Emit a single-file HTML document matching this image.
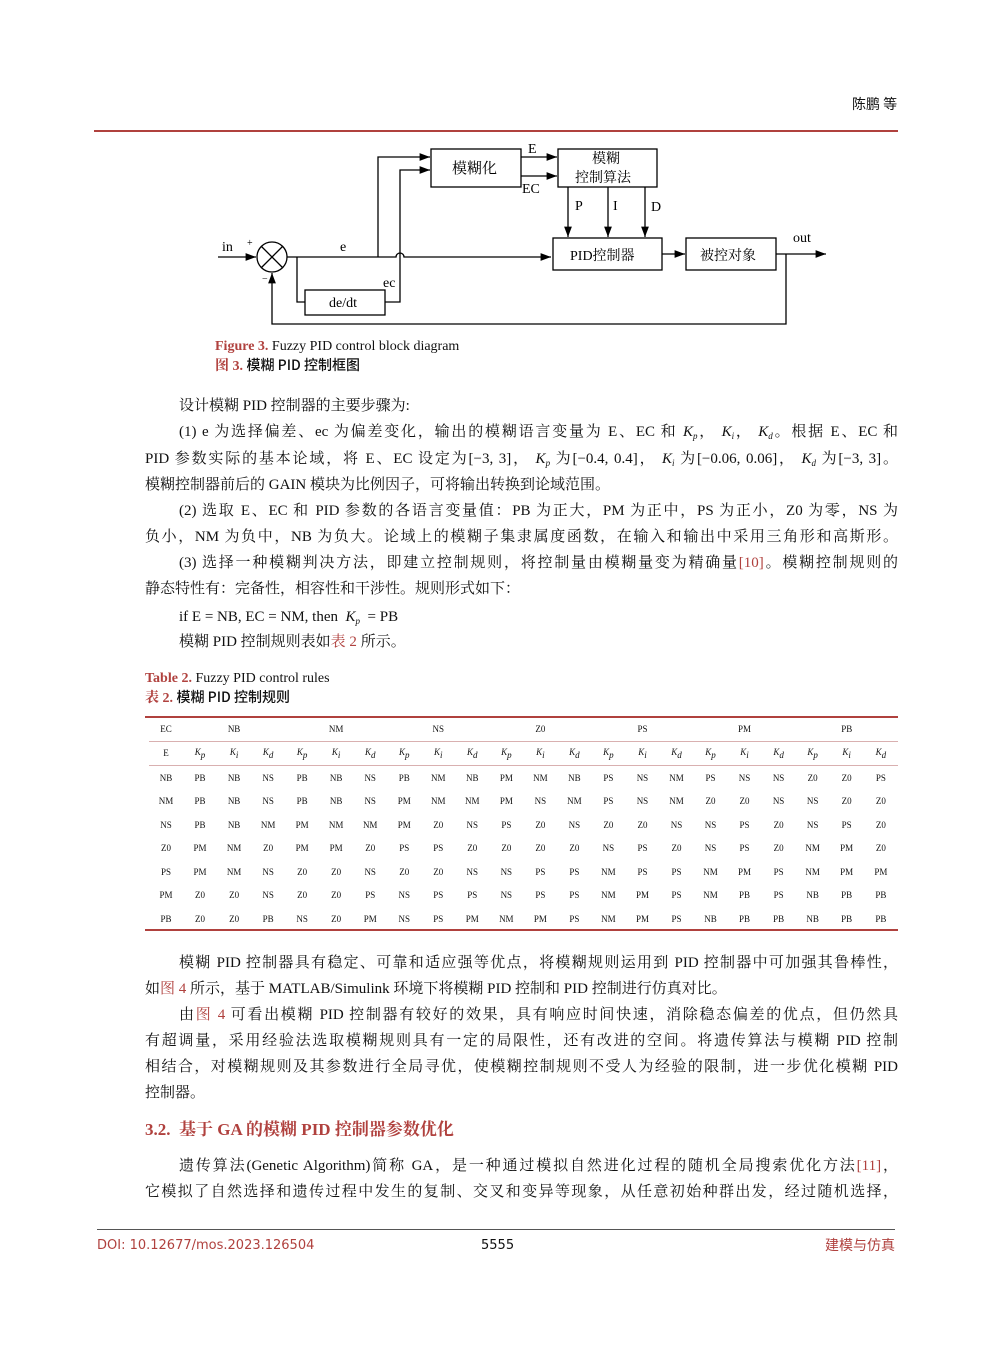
<!DOCTYPE html>
<html><head><meta charset="utf-8"><style>
body{margin:0;background:#fff}
#p{position:relative;width:992px;height:1347px;overflow:hidden;font-family:"Liberation Serif","Noto Serif CJK SC","Noto Sans CJK SC",serif;color:#111}
.l{position:absolute;font-size:15px;line-height:18px;white-space:nowrap}
.j{text-align:justify;text-align-last:justify;white-space:normal}
.r{color:#b0413e}
sub{font-size:9px;vertical-align:-3px}
i{font-style:italic}
table{position:absolute;left:145px;top:717px;width:753px;border-collapse:collapse;font-size:9px;font-family:"Liberation Serif",serif;table-layout:fixed}
td{text-align:center;height:23.5px;padding:0}
</style></head><body><div id="p">
<div class="l" style="left:852px;top:95px;font-family:'Noto Sans CJK SC',sans-serif;font-size:14px">陈鹏 等</div>
<div style="position:absolute;left:94px;top:130px;width:804px;height:1.5px;background:#b0413e"></div>

<svg style="position:absolute;left:0;top:0" width="992" height="340" font-family="Liberation Serif,Noto Serif CJK SC,serif" font-size="14">
<defs><marker id="a" markerWidth="8" markerHeight="6" refX="8" refY="3" orient="auto"><path d="M0,0L8,3L0,6z" fill="#000"/></marker></defs>
<g stroke="#000" stroke-width="1.3" fill="none">
<line x1="218" y1="257" x2="256" y2="257" marker-end="url(#a)"/>
<circle cx="272" cy="257" r="15"/>
<line x1="261" y1="246" x2="283" y2="268"/><line x1="283" y1="246" x2="261" y2="268"/>
<path d="M287,257H396a4,4 0 0 1 8,0H551" marker-end="url(#a)"/>
<path d="M378,257V157H430" marker-end="url(#a)"/>
<path d="M385,302H400V170H430" marker-end="url(#a)"/>
<path d="M297,257V302H305"/>
<rect x="305" y="290" width="80" height="25"/>
<rect x="431" y="149" width="90" height="38"/>
<line x1="521" y1="157" x2="557" y2="157" marker-end="url(#a)"/>
<line x1="521" y1="176" x2="557" y2="176" marker-end="url(#a)"/>
<rect x="558" y="149" width="99" height="38"/>
<line x1="568" y1="187" x2="568" y2="237" marker-end="url(#a)"/>
<line x1="608" y1="187" x2="608" y2="237" marker-end="url(#a)"/>
<line x1="645" y1="187" x2="645" y2="237" marker-end="url(#a)"/>
<rect x="553" y="238" width="109" height="32"/>
<line x1="662" y1="254" x2="685" y2="254" marker-end="url(#a)"/>
<rect x="686" y="238" width="90" height="32"/>
<line x1="776" y1="254" x2="826" y2="254" marker-end="url(#a)"/>
<path d="M786,254V324H272V273" marker-end="url(#a)"/>
</g>
<g fill="#000">
<text x="222" y="251">in</text><text x="247" y="246" font-size="10">+</text><text x="262" y="282" font-size="10">−</text>
<text x="340" y="251">e</text><text x="383" y="287">ec</text>
<text x="329" y="307">de/dt</text>
<text x="452" y="173" font-size="15">模糊化</text>
<text x="528" y="153">E</text><text x="522" y="193">EC</text>
<text x="592" y="163">模糊</text><text x="575" y="182">控制算法</text>
<text x="575" y="210">P</text><text x="613" y="210">I</text><text x="651" y="211">D</text>
<text x="570" y="260">PID控制器</text>
<text x="700" y="260">被控对象</text>
<text x="793" y="242">out</text>
</g></svg>

<div class="l" style="left:215px;top:338px;font-size:14px"><span class="r" style="font-weight:bold">Figure 3.</span> Fuzzy PID control block diagram</div>
<div class="l" style="left:215px;top:356px;font-size:14px"><span class="r" style="font-weight:bold">图 3.</span> <b style="font-family:'Noto Sans CJK SC',sans-serif;font-weight:500">模糊 PID 控制框图</b></div>

<div class="l" style="left:179px;top:397px">设计模糊 PID 控制器的主要步骤为:</div>
<div class="l j" style="left:179px;top:423px;width:719px">(1) e 为选择偏差、ec 为偏差变化，输出的模糊语言变量为 E、EC 和 <i>K<sub>p</sub></i>， <i>K<sub>i</sub></i>， <i>K<sub>d</sub></i>。根据 E、EC 和</div>
<div class="l j" style="left:145px;top:450px;width:753px">PID 参数实际的基本论域，将 E、EC 设定为[−3, 3]， <i>K<sub>p</sub></i> 为[−0.4, 0.4]， <i>K<sub>i</sub></i> 为[−0.06, 0.06]， <i>K<sub>d</sub></i> 为[−3, 3]。</div>
<div class="l" style="left:145px;top:476px">模糊控制器前后的 GAIN 模块为比例因子，可将输出转换到论域范围。</div>
<div class="l j" style="left:179px;top:502px;width:719px">(2) 选取 E、EC 和 PID 参数的各语言变量值：PB 为正大，PM 为正中，PS 为正小，Z0 为零，NS 为</div>
<div class="l j" style="left:145px;top:528px;width:753px">负小，NM 为负中，NB 为负大。论域上的模糊子集隶属度函数，在输入和输出中采用三角形和高斯形。</div>
<div class="l j" style="left:179px;top:554px;width:719px">(3) 选择一种模糊判决方法，即建立控制规则，将控制量由模糊量变为精确量<span class="r">[10]</span>。模糊控制规则的</div>
<div class="l" style="left:145px;top:580px">静态特性有：完备性，相容性和干涉性。规则形式如下：</div>
<div class="l" style="left:179px;top:608px">if E = NB, EC = NM, then &nbsp;<i>K<sub>p</sub></i> &nbsp;= PB</div>
<div class="l" style="left:179px;top:633px">模糊 PID 控制规则表如<span class="r">表 2</span> 所示。</div>

<div class="l" style="left:145px;top:670px;font-size:14px"><span class="r" style="font-weight:bold">Table 2.</span> Fuzzy PID control rules</div>
<div class="l" style="left:145px;top:688px;font-size:14px"><span class="r" style="font-weight:bold">表 2.</span> <b style="font-family:'Noto Sans CJK SC',sans-serif;font-weight:500">模糊 PID 控制规则</b></div>

<div style="position:absolute;left:145px;top:716px;width:753px;height:1.5px;background:#b0413e"></div>
<div style="position:absolute;left:145px;top:929px;width:753px;height:1.5px;background:#b0413e"></div>
<table style="left:149px;width:749px">
<tr><td>EC</td><td colspan="3">NB</td><td colspan="3">NM</td><td colspan="3">NS</td><td colspan="3">Z0</td><td colspan="3">PS</td><td colspan="3">PM</td><td colspan="3">PB</td></tr>
<tr style="border-top:1px solid #d9b0b0;border-bottom:1.5px solid #d9b0b0;font-style:italic"><td style="font-style:normal">E</td>
<td>K<sub>p</sub></td><td>K<sub>i</sub></td><td>K<sub>d</sub></td><td>K<sub>p</sub></td><td>K<sub>i</sub></td><td>K<sub>d</sub></td><td>K<sub>p</sub></td><td>K<sub>i</sub></td><td>K<sub>d</sub></td><td>K<sub>p</sub></td><td>K<sub>i</sub></td><td>K<sub>d</sub></td><td>K<sub>p</sub></td><td>K<sub>i</sub></td><td>K<sub>d</sub></td><td>K<sub>p</sub></td><td>K<sub>i</sub></td><td>K<sub>d</sub></td><td>K<sub>p</sub></td><td>K<sub>i</sub></td><td>K<sub>d</sub></td></tr>
<tr><td>NB</td><td>PB</td><td>NB</td><td>NS</td><td>PB</td><td>NB</td><td>NS</td><td>PB</td><td>NM</td><td>NB</td><td>PM</td><td>NM</td><td>NB</td><td>PS</td><td>NS</td><td>NM</td><td>PS</td><td>NS</td><td>NS</td><td>Z0</td><td>Z0</td><td>PS</td></tr>
<tr><td>NM</td><td>PB</td><td>NB</td><td>NS</td><td>PB</td><td>NB</td><td>NS</td><td>PM</td><td>NM</td><td>NM</td><td>PM</td><td>NS</td><td>NM</td><td>PS</td><td>NS</td><td>NM</td><td>Z0</td><td>Z0</td><td>NS</td><td>NS</td><td>Z0</td><td>Z0</td></tr>
<tr><td>NS</td><td>PB</td><td>NB</td><td>NM</td><td>PM</td><td>NM</td><td>NM</td><td>PM</td><td>Z0</td><td>NS</td><td>PS</td><td>Z0</td><td>NS</td><td>Z0</td><td>Z0</td><td>NS</td><td>NS</td><td>PS</td><td>Z0</td><td>NS</td><td>PS</td><td>Z0</td></tr>
<tr><td>Z0</td><td>PM</td><td>NM</td><td>Z0</td><td>PM</td><td>PM</td><td>Z0</td><td>PS</td><td>PS</td><td>Z0</td><td>Z0</td><td>Z0</td><td>Z0</td><td>NS</td><td>PS</td><td>Z0</td><td>NS</td><td>PS</td><td>Z0</td><td>NM</td><td>PM</td><td>Z0</td></tr>
<tr><td>PS</td><td>PM</td><td>NM</td><td>NS</td><td>Z0</td><td>Z0</td><td>NS</td><td>Z0</td><td>Z0</td><td>NS</td><td>NS</td><td>PS</td><td>PS</td><td>NM</td><td>PS</td><td>PS</td><td>NM</td><td>PM</td><td>PS</td><td>NM</td><td>PM</td><td>PM</td></tr>
<tr><td>PM</td><td>Z0</td><td>Z0</td><td>NS</td><td>Z0</td><td>Z0</td><td>PS</td><td>NS</td><td>PS</td><td>PS</td><td>NS</td><td>PS</td><td>PS</td><td>NM</td><td>PM</td><td>PS</td><td>NM</td><td>PB</td><td>PS</td><td>NB</td><td>PB</td><td>PB</td></tr>
<tr><td>PB</td><td>Z0</td><td>Z0</td><td>PB</td><td>NS</td><td>Z0</td><td>PM</td><td>NS</td><td>PS</td><td>PM</td><td>NM</td><td>PM</td><td>PS</td><td>NM</td><td>PM</td><td>PS</td><td>NB</td><td>PB</td><td>PB</td><td>NB</td><td>PB</td><td>PB</td></tr>
</table>

<div class="l j" style="left:179px;top:954px;width:719px">模糊 PID 控制器具有稳定、可靠和适应强等优点，将模糊规则运用到 PID 控制器中可加强其鲁棒性，</div>
<div class="l" style="left:145px;top:980px">如<span class="r">图 4</span> 所示，基于 MATLAB/Simulink 环境下将模糊 PID 控制和 PID 控制进行仿真对比。</div>
<div class="l j" style="left:179px;top:1006px;width:719px">由<span class="r">图 4</span> 可看出模糊 PID 控制器有较好的效果，具有响应时间快速，消除稳态偏差的优点，但仍然具</div>
<div class="l j" style="left:145px;top:1032px;width:753px">有超调量，采用经验法选取模糊规则具有一定的局限性，还有改进的空间。将遗传算法与模糊 PID 控制</div>
<div class="l j" style="left:145px;top:1058px;width:753px">相结合，对模糊规则及其参数进行全局寻优，使模糊控制规则不受人为经验的限制，进一步优化模糊 PID</div>
<div class="l" style="left:145px;top:1084px">控制器。</div>
<div class="l r" style="left:145px;top:1120px;font-size:17px;font-weight:bold;line-height:20px">3.2. &nbsp;基于 GA 的模糊 PID 控制器参数优化</div>
<div class="l j" style="left:179px;top:1157px;width:719px">遗传算法(Genetic Algorithm)简称 GA，是一种通过模拟自然进化过程的随机全局搜索优化方法<span class="r">[11]</span>，</div>
<div class="l j" style="left:145px;top:1183px;width:753px">它模拟了自然选择和遗传过程中发生的复制、交叉和变异等现象，从任意初始种群出发，经过随机选择，</div>

<div style="position:absolute;left:97px;top:1229px;width:798px;height:1px;background:#555"></div>
<div class="l r" style="left:97px;top:1237px;font-size:13px;font-family:'DejaVu Sans',sans-serif">DOI: 10.12677/mos.2023.126504</div>
<div class="l" style="left:481px;top:1237px;font-size:13px;font-family:'DejaVu Sans',sans-serif">5555</div>
<div class="l r" style="left:825px;top:1236px;font-size:14px;font-family:'Noto Sans CJK SC',sans-serif">建模与仿真</div>
</div></body></html>
